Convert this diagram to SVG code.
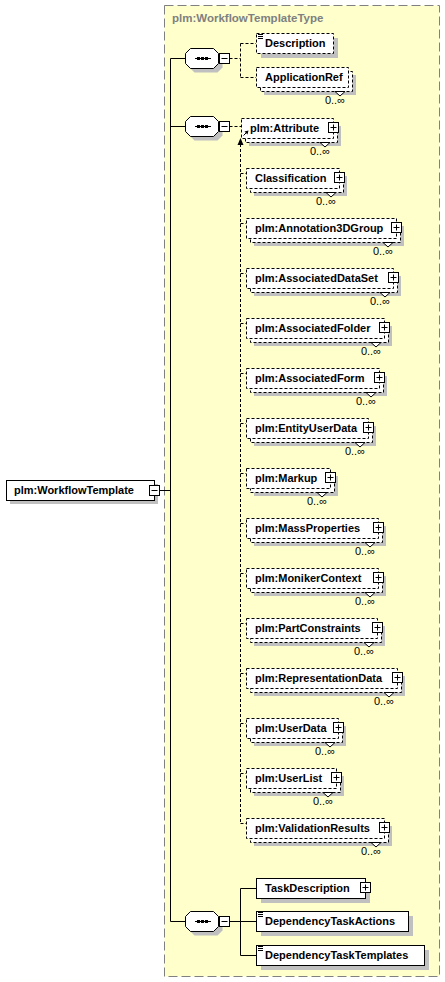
<svg xmlns="http://www.w3.org/2000/svg" xmlns:xlink="http://www.w3.org/1999/xlink" width="445" height="982" viewBox="0 0 445 982">
<style>
.bg{fill:#FFFFCC;stroke:#808080;stroke-dasharray:9,4}
.sh{fill:#C0C0C0;stroke:none}
.el{fill:#FFFFFF;stroke:#000;stroke-width:1}
.eld{fill:#FFFFFF;stroke:#000;stroke-width:1;stroke-dasharray:3,2}
.ln{fill:none;stroke:#000;stroke-width:1}
.lnd{fill:none;stroke:#000;stroke-width:1;stroke-dasharray:3,2}
.t{font-family:"Liberation Sans",Arial,sans-serif;font-size:11px;font-weight:bold;fill:#000}
.o{font-family:"Liberation Sans",Arial,sans-serif;font-size:11px;fill:#000;text-anchor:end}
.ti{font-family:"Liberation Sans",Arial,sans-serif;font-size:11.5px;font-weight:bold;fill:#808080}
.nt{fill:#FFFFFF;stroke:#000;stroke-width:1}
</style>
<defs>
<g id="seq">
<polygon class="sh" points="9.5,-5.5 32.5,-5.5 37.5,-0.5 37.5,9.5 32.5,14.5 9.5,14.5 4.5,9.5 4.5,-0.5"/>
<polygon class="el" points="5.5,-9.5 28.5,-9.5 33.5,-4.5 33.5,5.5 28.5,10.5 5.5,10.5 0.5,5.5 0.5,-4.5"/>
<path class="ln" d="M10,0.5H26"/>
<rect x="12" y="-1" width="3" height="3" fill="#000"/>
<rect x="16" y="-1" width="3" height="3" fill="#000"/>
<rect x="20" y="-1" width="3" height="3" fill="#000"/>
<rect class="el" x="34.5" y="-4.5" width="10" height="10"/>
<path class="ln" d="M36.5,0.5H42.5"/>
</g>
<g id="txticon">
<path class="ln" d="M0,0.5H5M0,2.5H5M0,4.5H5"/>
</g>
</defs>

<rect class="bg" x="164.5" y="5.5" width="275" height="971"/>
<text class="ti" x="172" y="22">plm:WorkflowTemplateType</text>

<g id="connectors">
<path class="ln" d="M159.5,490.5H170.5M170.5,58.5V921.5M170.5,58.5H185M170.5,126.5H185M170.5,921.5H185"/>
<path class="lnd" d="M229.5,58.5H240.5M240.5,43.5V77.5M240.5,43.5H256M240.5,77.5H256"/>
<path class="lnd" d="M229.5,126.5H241"/>
<path class="lnd" d="M240.5,144V823.5"/>
<path class="lnd" d="M240.5,173.5H246M240.5,223.5H246M240.5,273.5H246M240.5,323.5H246M240.5,373.5H246M240.5,423.5H246M240.5,473.5H246M240.5,523.5H246M240.5,573.5H246M240.5,623.5H246M240.5,673.5H246M240.5,723.5H246M240.5,773.5H246M240.5,823.5H246"/>
<polygon points="240.5,138 237.5,145 243.5,145" fill="#000"/>
<path class="ln" d="M229.5,921.5H240.5M240.5,888.5V955.5M240.5,888.5H256M240.5,921.5H256M240.5,955.5H256"/>
</g>

<g id="root">
<rect class="sh" x="10" y="484" width="148" height="20"/>
<rect class="el" x="6.5" y="480.5" width="148" height="20"/>
<text class="t" x="14" y="494">plm:WorkflowTemplate</text>
<rect class="el" x="149.5" y="485.5" width="10" height="10"/>
<path class="ln" d="M151.5,490.5H157.5"/>
</g>

<use id="seq1" xlink:href="#seq" href="#seq" x="185" y="58"/>
<use id="seq2" xlink:href="#seq" href="#seq" x="185" y="126"/>
<use id="seq3" xlink:href="#seq" href="#seq" x="185" y="921"/>

<g id="Description">
<rect class="sh" x="261" y="38" width="77" height="20"/>
<rect class="eld" x="256.5" y="33.5" width="77" height="20"/>
<use xlink:href="#txticon" href="#txticon" x="258" y="34"/>
<text class="t" x="265" y="47">Description</text>
</g>

<g id="ApplicationRef">
<rect class="sh" x="264" y="75" width="92" height="20"/>
<rect class="eld" x="260.5" y="71.5" width="92" height="20"/>
<rect class="eld" x="256.5" y="67.5" width="92" height="20"/>
<polygon class="nt" points="335,91.5 340,96 345,91.5"/>
<text class="t" x="265" y="81">ApplicationRef</text>
<text class="o" x="345" y="104">0..∞</text>
</g>

<g id="Attribute">
<rect class="sh" x="249" y="126" width="92" height="20"/>
<rect class="eld" x="245.5" y="122.5" width="92" height="20"/>
<rect class="eld" x="241.5" y="118.5" width="92" height="20"/>
<polygon class="nt" points="320,142.5 325,147 330,142.5"/>
<path class="ln" d="M243.5,135.5L247,132"/>
<polygon points="248.5,130.5 244.5,131.5 247.5,134.5" fill="#000"/>
<text class="t" x="250" y="132">plm:Attribute</text>
<rect class="el" x="328.5" y="122.5" width="10" height="10"/>
<path class="ln" d="M330.5,127.5h6M333.5,124.5v6"/>
<text class="o" x="330" y="155">0..∞</text>
</g>

<g id="Classification">
<rect class="sh" x="254" y="176" width="93" height="20"/>
<rect class="eld" x="250.5" y="172.5" width="93" height="20"/>
<rect class="eld" x="246.5" y="168.5" width="93" height="20"/>
<polygon class="nt" points="326,192.5 331,197 336,192.5"/>
<text class="t" x="255" y="182">Classification</text>
<rect class="el" x="334.5" y="172.5" width="10" height="10"/>
<path class="ln" d="M336.5,177.5h6M339.5,174.5v6"/>
<text class="o" x="336" y="205">0..∞</text>
</g>

<g id="Annotation3DGroup">
<rect class="sh" x="254" y="226" width="150" height="20"/>
<rect class="eld" x="250.5" y="222.5" width="150" height="20"/>
<rect class="eld" x="246.5" y="218.5" width="150" height="20"/>
<polygon class="nt" points="383,242.5 388,247 393,242.5"/>
<text class="t" x="255" y="232">plm:Annotation3DGroup</text>
<rect class="el" x="391.5" y="222.5" width="10" height="10"/>
<path class="ln" d="M393.5,227.5h6M396.5,224.5v6"/>
<text class="o" x="393" y="255">0..∞</text>
</g>

<g id="AssociatedDataSet">
<rect class="sh" x="254" y="276" width="147" height="20"/>
<rect class="eld" x="250.5" y="272.5" width="147" height="20"/>
<rect class="eld" x="246.5" y="268.5" width="147" height="20"/>
<polygon class="nt" points="380,292.5 385,297 390,292.5"/>
<text class="t" x="255" y="282">plm:AssociatedDataSet</text>
<rect class="el" x="388.5" y="272.5" width="10" height="10"/>
<path class="ln" d="M390.5,277.5h6M393.5,274.5v6"/>
<text class="o" x="390" y="305">0..∞</text>
</g>

<g id="AssociatedFolder">
<rect class="sh" x="254" y="326" width="138" height="20"/>
<rect class="eld" x="250.5" y="322.5" width="138" height="20"/>
<rect class="eld" x="246.5" y="318.5" width="138" height="20"/>
<polygon class="nt" points="371,342.5 376,347 381,342.5"/>
<text class="t" x="255" y="332">plm:AssociatedFolder</text>
<rect class="el" x="379.5" y="322.5" width="10" height="10"/>
<path class="ln" d="M381.5,327.5h6M384.5,324.5v6"/>
<text class="o" x="381" y="355">0..∞</text>
</g>

<g id="AssociatedForm">
<rect class="sh" x="254" y="376" width="133" height="20"/>
<rect class="eld" x="250.5" y="372.5" width="133" height="20"/>
<rect class="eld" x="246.5" y="368.5" width="133" height="20"/>
<polygon class="nt" points="366,392.5 371,397 376,392.5"/>
<text class="t" x="255" y="382">plm:AssociatedForm</text>
<rect class="el" x="374.5" y="372.5" width="10" height="10"/>
<path class="ln" d="M376.5,377.5h6M379.5,374.5v6"/>
<text class="o" x="376" y="405">0..∞</text>
</g>

<g id="EntityUserData">
<rect class="sh" x="254" y="426" width="122" height="20"/>
<rect class="eld" x="250.5" y="422.5" width="122" height="20"/>
<rect class="eld" x="246.5" y="418.5" width="122" height="20"/>
<polygon class="nt" points="355,442.5 360,447 365,442.5"/>
<text class="t" x="255" y="432">plm:EntityUserData</text>
<rect class="el" x="363.5" y="422.5" width="10" height="10"/>
<path class="ln" d="M365.5,427.5h6M368.5,424.5v6"/>
<text class="o" x="365" y="455">0..∞</text>
</g>

<g id="Markup">
<rect class="sh" x="254" y="476" width="84" height="20"/>
<rect class="eld" x="250.5" y="472.5" width="84" height="20"/>
<rect class="eld" x="246.5" y="468.5" width="84" height="20"/>
<polygon class="nt" points="317,492.5 322,497 327,492.5"/>
<text class="t" x="255" y="482">plm:Markup</text>
<rect class="el" x="325.5" y="472.5" width="10" height="10"/>
<path class="ln" d="M327.5,477.5h6M330.5,474.5v6"/>
<text class="o" x="327" y="505">0..∞</text>
</g>

<g id="MassProperties">
<rect class="sh" x="254" y="526" width="132" height="20"/>
<rect class="eld" x="250.5" y="522.5" width="132" height="20"/>
<rect class="eld" x="246.5" y="518.5" width="132" height="20"/>
<polygon class="nt" points="365,542.5 370,547 375,542.5"/>
<text class="t" x="255" y="532">plm:MassProperties</text>
<rect class="el" x="373.5" y="522.5" width="10" height="10"/>
<path class="ln" d="M375.5,527.5h6M378.5,524.5v6"/>
<text class="o" x="375" y="555">0..∞</text>
</g>

<g id="MonikerContext">
<rect class="sh" x="254" y="576" width="132" height="20"/>
<rect class="eld" x="250.5" y="572.5" width="132" height="20"/>
<rect class="eld" x="246.5" y="568.5" width="132" height="20"/>
<polygon class="nt" points="365,592.5 370,597 375,592.5"/>
<text class="t" x="255" y="582">plm:MonikerContext</text>
<rect class="el" x="373.5" y="572.5" width="10" height="10"/>
<path class="ln" d="M375.5,577.5h6M378.5,574.5v6"/>
<text class="o" x="375" y="605">0..∞</text>
</g>

<g id="PartConstraints">
<rect class="sh" x="254" y="626" width="131" height="20"/>
<rect class="eld" x="250.5" y="622.5" width="131" height="20"/>
<rect class="eld" x="246.5" y="618.5" width="131" height="20"/>
<polygon class="nt" points="364,642.5 369,647 374,642.5"/>
<text class="t" x="255" y="632">plm:PartConstraints</text>
<rect class="el" x="372.5" y="622.5" width="10" height="10"/>
<path class="ln" d="M374.5,627.5h6M377.5,624.5v6"/>
<text class="o" x="374" y="655">0..∞</text>
</g>

<g id="RepresentationData">
<rect class="sh" x="254" y="676" width="151" height="20"/>
<rect class="eld" x="250.5" y="672.5" width="151" height="20"/>
<rect class="eld" x="246.5" y="668.5" width="151" height="20"/>
<polygon class="nt" points="384,692.5 389,697 394,692.5"/>
<text class="t" x="255" y="682">plm:RepresentationData</text>
<rect class="el" x="392.5" y="672.5" width="10" height="10"/>
<path class="ln" d="M394.5,677.5h6M397.5,674.5v6"/>
<text class="o" x="394" y="705">0..∞</text>
</g>

<g id="UserData">
<rect class="sh" x="254" y="726" width="92" height="20"/>
<rect class="eld" x="250.5" y="722.5" width="92" height="20"/>
<rect class="eld" x="246.5" y="718.5" width="92" height="20"/>
<polygon class="nt" points="325,742.5 330,747 335,742.5"/>
<text class="t" x="255" y="732">plm:UserData</text>
<rect class="el" x="333.5" y="722.5" width="10" height="10"/>
<path class="ln" d="M335.5,727.5h6M338.5,724.5v6"/>
<text class="o" x="335" y="755">0..∞</text>
</g>

<g id="UserList">
<rect class="sh" x="254" y="776" width="90" height="20"/>
<rect class="eld" x="250.5" y="772.5" width="90" height="20"/>
<rect class="eld" x="246.5" y="768.5" width="90" height="20"/>
<polygon class="nt" points="323,792.5 328,797 333,792.5"/>
<text class="t" x="255" y="782">plm:UserList</text>
<rect class="el" x="331.5" y="772.5" width="10" height="10"/>
<path class="ln" d="M333.5,777.5h6M336.5,774.5v6"/>
<text class="o" x="333" y="805">0..∞</text>
</g>

<g id="ValidationResults">
<rect class="sh" x="254" y="826" width="138" height="20"/>
<rect class="eld" x="250.5" y="822.5" width="138" height="20"/>
<rect class="eld" x="246.5" y="818.5" width="138" height="20"/>
<polygon class="nt" points="371,842.5 376,847 381,842.5"/>
<text class="t" x="255" y="832">plm:ValidationResults</text>
<rect class="el" x="379.5" y="822.5" width="10" height="10"/>
<path class="ln" d="M381.5,827.5h6M384.5,824.5v6"/>
<text class="o" x="381" y="855">0..∞</text>
</g>

<g id="TaskDescription">
<rect class="sh" x="261" y="883" width="109" height="20"/>
<rect class="el" x="256.5" y="878.5" width="109" height="20"/>
<text class="t" x="265" y="892">TaskDescription</text>
<rect class="el" x="360.5" y="882.5" width="10" height="10"/>
<path class="ln" d="M362.5,887.5h6M365.5,884.5v6"/>
</g>

<g id="DependencyTaskActions">
<rect class="sh" x="261" y="916" width="152" height="20"/>
<rect class="el" x="256.5" y="911.5" width="152" height="20"/>
<use xlink:href="#txticon" href="#txticon" x="258" y="912"/>
<text class="t" x="265" y="925">DependencyTaskActions</text>
</g>

<g id="DependencyTaskTemplates">
<rect class="sh" x="261" y="950" width="168" height="20"/>
<rect class="el" x="256.5" y="945.5" width="168" height="20"/>
<use xlink:href="#txticon" href="#txticon" x="258" y="946"/>
<text class="t" x="265" y="959">DependencyTaskTemplates</text>
</g>
</svg>
